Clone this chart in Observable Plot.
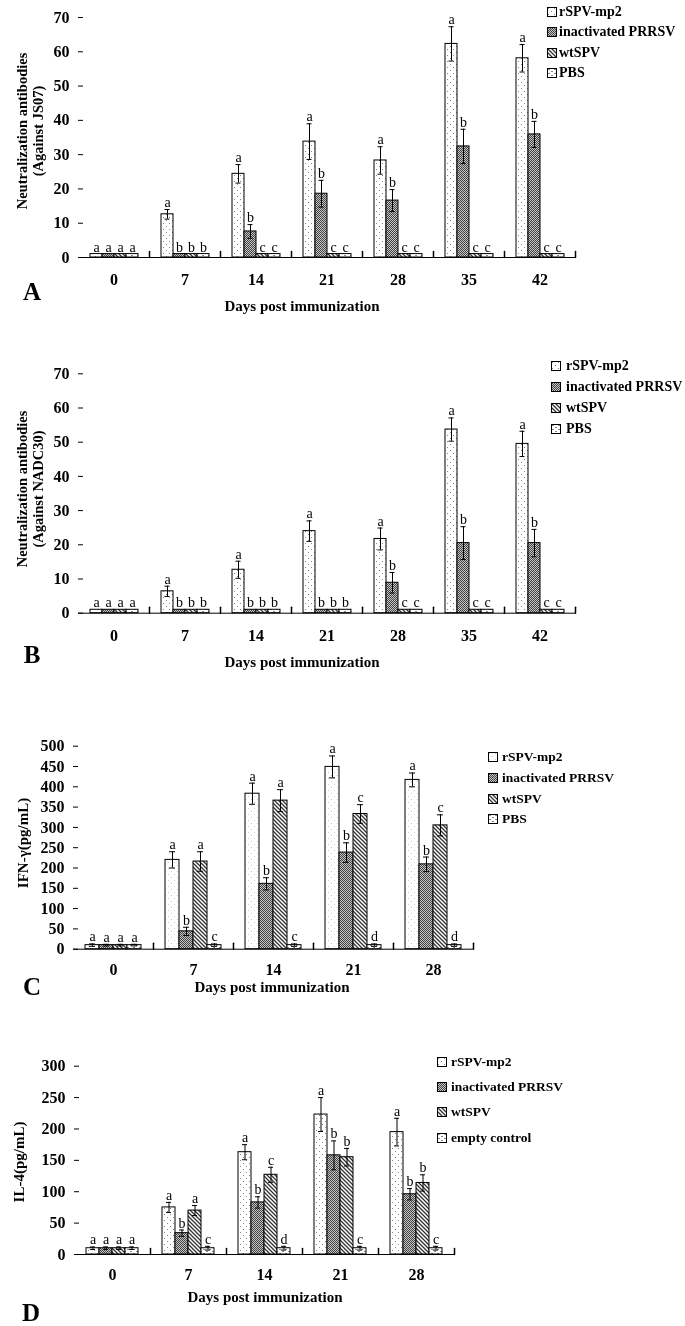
<!DOCTYPE html>
<html><head><meta charset="utf-8">
<script src="https://cdn.jsdelivr.net/npm/d3@7"></script>
<script src="https://cdn.jsdelivr.net/npm/@observablehq/plot@0.6"></script>
<style>
body{margin:0;background:#fff;}
#root{position:relative;width:685px;height:1326px;overflow:hidden;font-family:'Liberation Serif','Times New Roman',serif;color:#000;background:#fff;filter:grayscale(100%);}
.pl{position:absolute;left:0;}
.ctr{position:absolute;transform:translate(-50%,-50%);white-space:nowrap;font-weight:bold;}
.ytitle{position:absolute;transform:translate(-50%,-50%) rotate(-90deg);text-align:center;font-weight:bold;font-size:14px;line-height:16px;white-space:nowrap;}
.leg{position:absolute;font-weight:bold;white-space:nowrap;}
.leg .it{position:absolute;left:0;display:flex;align-items:center;transform:translateY(-50%);}
.leg svg{display:block;}
</style></head>
<body>
<svg width="0" height="0" style="position:absolute">
<defs>
<pattern id="pDots" patternUnits="userSpaceOnUse" width="6" height="6"><rect width="6" height="6" fill="#fff"/><rect x="1" y="1" width="1" height="1" fill="#888"/><rect x="4" y="4" width="1" height="1" fill="#888"/></pattern>
<pattern id="pDotsL" patternUnits="userSpaceOnUse" width="6" height="6"><rect width="6" height="6" fill="#fff"/><rect x="1" y="1" width="1" height="1" fill="#ccc"/><rect x="4" y="4" width="1" height="1" fill="#ccc"/></pattern>
<pattern id="pCheck" patternUnits="userSpaceOnUse" width="2" height="2"><rect width="2" height="2" fill="#c4c4c4"/><rect x="0" y="0" width="1" height="1" fill="#444"/><rect x="1" y="1" width="1" height="1" fill="#444"/></pattern>
<pattern id="pDiag" patternUnits="userSpaceOnUse" width="4" height="4"><rect width="4" height="4" fill="#fff"/><path d="M-1,-1L5,5M-1,3L1,5M3,-1L5,1" stroke="#333" stroke-width="1.3"/></pattern>
<pattern id="pPBS" patternUnits="userSpaceOnUse" width="6" height="4"><rect width="6" height="4" fill="#fff"/><rect x="1" y="1" width="2" height="1" fill="#888"/><rect x="4" y="3" width="2" height="1" fill="#888"/></pattern>
</defs></svg>
<div id="root"></div>
<script>
// ---------- data ----------
const daysAB = ["0", "7", "14", "21", "28", "35", "42"];
const daysCD = ["0", "7", "14", "21", "28"];
const groupsABC = ["rSPV-mp2", "inactivated PRRSV", "wtSPV", "PBS"];
const groupsD = ["rSPV-mp2", "inactivated PRRSV", "wtSPV", "empty control"];

// Panel A: neutralization antibodies against JS07
const aMeans = [
  [1, 12.6, 24.4, 33.8, 28.3, 62.3, 58.1],
  [1, 1, 7.6, 18.6, 16.6, 32.4, 35.9],
  [1, 1, 1, 1, 1, 1, 1],
  [1, 1, 1, 1, 1, 1, 1]
];
const aErrs = [
  [0, 1.4, 2.7, 5.2, 4, 5, 4],
  [0, 0, 2, 3.9, 3.2, 5, 3.8],
  [0, 0, 0, 0, 0, 0, 0],
  [0, 0, 0, 0, 0, 0, 0]
];
const aLetters = ["aaaaaaa", "abbbbbb", "abccccc", "abccccc"];

// Panel B: neutralization antibodies against NADC30
const bMeans = [
  [1, 6.4, 12.7, 24, 21.7, 53.7, 49.5],
  [1, 1, 1, 1, 8.9, 20.5, 20.5],
  [1, 1, 1, 1, 1, 1, 1],
  [1, 1, 1, 1, 1, 1, 1]
];
const bErrs = [
  [0, 1.5, 2.5, 3, 3.2, 3.4, 3.7],
  [0, 0, 0, 0, 3, 4.8, 4],
  [0, 0, 0, 0, 0, 0, 0],
  [0, 0, 0, 0, 0, 0, 0]
];
const bLetters = ["aaaaaaa", "abbbbbb", "abbbccc", "abbbccc"];

// Panel C: IFN-gamma (pg/mL)
const cMeans = [
  [10, 220, 383, 449, 417],
  [10, 44, 161, 238, 209],
  [10, 216, 366, 333, 305],
  [10, 10, 10, 10, 10]
];
const cErrs = [
  [3, 20, 26, 27, 17],
  [2, 10, 15, 24, 18],
  [2, 24, 27, 23, 26],
  [2, 3, 3, 3, 3]
];
const cLetters = ["aaaaa", "abbbb", "aaacc", "accdd"];

// Panel D: IL-4 (pg/mL)
const dMeans = [
  [10, 75, 163, 223, 195],
  [10, 34, 83, 158, 96],
  [10, 70, 127, 155, 114],
  [10, 10, 10, 10, 10]
];
const dErrs = [
  [2, 8, 12, 27, 22],
  [2, 5, 9, 23, 9],
  [2, 8, 12, 14, 13],
  [2, 3, 3, 3, 3]
];
const dLetters = ["aaaaa", "abbbb", "aacbb", "acdcc"];

// ---------- build ----------
function table(days, groups, means, errs, letters) {
  return days.flatMap((day, i) => groups.map((g, j) => ({
    day, group: g, value: means[j][i], err: errs[j][i], letter: letters[j][i]
  })));
}

const tickShape = {draw(ctx, l) { ctx.moveTo(0, 0); ctx.lineTo(0, -l); }};
const FONT = "'Liberation Serif','Times New Roman',serif";

function panel(o) {
  const rows = table(o.days, o.groups, o.means, o.errs, o.letters);
  const withErr = rows.filter(d => d.err > 0);
  const plot = Plot.plot({
    width: 685, height: o.height,
    marginTop: o.mt, marginBottom: o.mb, marginLeft: o.ml, marginRight: o.mr,
    style: {fontFamily: FONT, fontSize: "16px", fontWeight: "bold", color: "black", background: "transparent", overflow: "visible"},
    fx: {domain: o.days, paddingInner: 0, paddingOuter: 0, label: null},
    x: {domain: o.groups, paddingInner: 0, paddingOuter: 0.75, axis: null},
    y: {domain: [0, o.yMax], label: null},
    color: {domain: o.groups, range: o.fills},
    marks: [
      Plot.barY(rows, {fx: "day", x: "group", y: "value", fill: "group", stroke: "black", strokeWidth: 1}),
      Plot.ruleX(withErr, {fx: "day", x: "group", y1: d => d.value - d.err, y2: d => d.value + d.err, stroke: "black"}),
      Plot.tickY(withErr, {fx: "day", x: "group", y: d => d.value + d.err, insetLeft: o.cap, insetRight: o.cap, stroke: "black"}),
      Plot.tickY(withErr, {fx: "day", x: "group", y: d => d.value - d.err, insetLeft: o.cap, insetRight: o.cap, stroke: "black"}),
      Plot.text(rows, {fx: "day", x: "group", y: d => d.value + d.err, text: "letter", dy: -7, fill: "black", fontWeight: "normal", fontSize: o.letterSize}),
      Plot.ruleY([0], {stroke: "black"}),
      Plot.vector([0], {frameAnchor: "bottom-right", length: 6, rotate: 0, anchor: "start", stroke: "black", shape: tickShape}),
      Plot.axisY({ticks: d3.range(0, o.yMax + 1, o.yStep), tickSize: -5, tickPadding: 14, line: true, label: null, fontSize: 16, fill: "black", stroke: "black"}),
      Plot.axisFx({anchor: "bottom", tickSize: 0, tickPadding: o.fxPad, label: null, fontSize: 16, fill: "black"})
    ]
  });
  plot.classList.add("pl");
  plot.style.top = o.top + "px";
  root.appendChild(plot);

  // legend
  const leg = document.createElement("div");
  leg.className = "leg";
  leg.style.left = o.legX + "px";
  leg.style.top = "0px";
  leg.style.fontSize = o.legFont + "px";
  o.groups.forEach((g, j) => {
    const it = document.createElement("div");
    it.className = "it";
    it.style.top = (o.legY + j * o.legStep) + "px";
    it.innerHTML = `<svg width="10" height="10"><rect x="0.5" y="0.5" width="9" height="9" fill="${o.fills[j]}" stroke="#000" stroke-width="1"/></svg><span style="margin-left:${o.legGap}px">${g}</span>`;
    leg.appendChild(it);
  });
  root.appendChild(leg);

  // titles
  const yt = document.createElement("div");
  yt.className = "ytitle";
  yt.style.left = o.ytX + "px"; yt.style.top = o.ytY + "px";
  yt.style.fontSize = o.ytFont + "px";
  yt.innerHTML = o.yTitle;
  root.appendChild(yt);

  const xt = document.createElement("div");
  xt.className = "ctr";
  xt.style.left = o.xtX + "px"; xt.style.top = o.xtY + "px"; xt.style.fontSize = "15px";
  xt.textContent = "Days post immunization";
  root.appendChild(xt);

  const pl = document.createElement("div");
  pl.className = "ctr";
  pl.style.left = o.pX + "px"; pl.style.top = o.pY + "px"; pl.style.fontSize = "25px";
  pl.style.lineHeight = "1";
  pl.textContent = o.panelLetter;
  root.appendChild(pl);
}

const root = document.getElementById("root");
const fillsStd = ["url(#pDots)", "url(#pCheck)", "url(#pDiag)", "url(#pPBS)"];
const fillsC = ["url(#pDotsL)", "url(#pCheck)", "url(#pDiag)", "url(#pPBS)"];

panel({days: daysAB, groups: groupsABC, means: aMeans, errs: aErrs, letters: aLetters, fills: fillsStd,
  yMax: 70, yStep: 10, top: 0, height: 300, mt: 17, mb: 43, ml: 77, mr: 110, cap: 3.5, letterSize: 14, fxPad: 16,
  legX: 547, legY: 12, legStep: 20.3, legFont: 14, legGap: 2,
  ytX: 30, ytY: 131, ytFont: 14.5, yTitle: "Neutralization antibodies<br>(Against JS07)",
  xtX: 302, xtY: 306, pX: 32, pY: 291, panelLetter: "A"});

panel({days: daysAB, groups: groupsABC, means: bMeans, errs: bErrs, letters: bLetters, fills: fillsStd,
  yMax: 70, yStep: 10, top: 320, height: 330, mt: 53.3, mb: 37.3, ml: 77, mr: 110, cap: 3.5, letterSize: 14, fxPad: 16,
  legX: 551, legY: 365.7, legStep: 21.2, legFont: 14, legGap: 5,
  ytX: 30, ytY: 489, ytFont: 14.5, yTitle: "Neutralization antibodies<br>(Against NADC30)",
  xtX: 302, xtY: 662, pX: 32, pY: 654, panelLetter: "B"});

panel({days: daysCD, groups: groupsABC, means: cMeans, errs: cErrs, letters: cLetters, fills: fillsC,
  yMax: 500, yStep: 50, top: 690, height: 300, mt: 55.7, mb: 41.3, ml: 73, mr: 212, cap: 4, letterSize: 14, fxPad: 14,
  legX: 488, legY: 757.3, legStep: 20.6, legFont: 13.5, legGap: 4,
  ytX: 23, ytY: 843, ytFont: 15, yTitle: "IFN-γ(pg/mL)",
  xtX: 272, xtY: 987, pX: 32, pY: 986, panelLetter: "C"});

panel({days: daysCD, groups: groupsD, means: dMeans, errs: dErrs, letters: dLetters, fills: fillsStd,
  yMax: 300, yStep: 50, top: 1000, height: 300, mt: 65.7, mb: 46, ml: 74, mr: 231, cap: 4, letterSize: 14, fxPad: 14,
  legX: 437, legY: 1061.7, legStep: 25.3, legFont: 13.5, legGap: 4,
  ytX: 19, ytY: 1162, ytFont: 15, yTitle: "IL-4(pg/mL)",
  xtX: 265, xtY: 1297, pX: 31, pY: 1312, panelLetter: "D"});
</script>
</body></html>
